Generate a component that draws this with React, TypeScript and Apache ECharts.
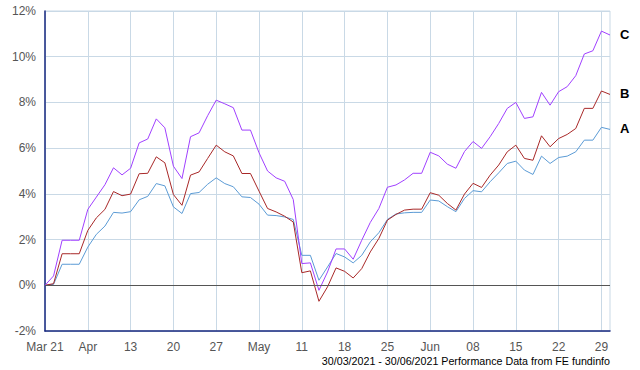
import React, { useEffect, useRef } from "react";
import * as echarts from "echarts";

// Weekday calendar from 30/03/2021 to 30/06/2021
const startDate = "2021-03-30";
const endDate = "2021-06-30";

const tickLabels = ["Mar 21", "Apr", "13", "20", "27", "May", "11", "18", "25", "Jun", "08", "15", "22", "29"];
const tickEvery = 5;

const seriesA = [
  0, 0.04, 0.92, 0.92, 0.92, 1.67, 2.23, 2.59, 3.19, 3.16,
  3.22, 3.74, 3.89, 4.45, 4.35, 3.43, 3.14, 4.01, 4.06, 4.42,
  4.7, 4.45, 4.31, 3.87, 3.84, 3.55, 3.07, 3.05, 2.99, 2.88,
  1.31, 1.31, 0.22, 0.8, 1.39, 1.24, 0.98, 1.31, 1.9, 2.3,
  2.88, 3.12, 3.17, 3.19, 3.19, 3.73, 3.69, 3.44, 3.22, 3.8,
  4.14, 4.09, 4.53, 4.92, 5.33, 5.43, 5.04, 4.85, 5.65, 5.33,
  5.59, 5.65, 5.84, 6.35, 6.35, 6.91, 6.82,
];
const seriesB = [
  0, 0.07, 1.38, 1.38, 1.38, 2.4, 2.95, 3.32, 4.1, 3.92,
  3.99, 4.88, 4.9, 5.62, 5.36, 3.97, 3.5, 4.82, 4.96, 5.55,
  6.13, 5.84, 5.66, 4.89, 4.89, 4.12, 3.36, 3.21, 3.02, 2.77,
  0.55, 0.63, -0.7, -0.07, 0.76, 0.61, 0.32, 0.73, 1.46, 2.05,
  2.85, 3.1, 3.29, 3.33, 3.33, 4.05, 3.94, 3.58, 3.29, 3.99,
  4.46, 4.28, 4.82, 5.26, 5.84, 6.13, 5.55, 5.47, 6.54, 6.06,
  6.42, 6.6, 6.86, 7.74, 7.74, 8.5, 8.35,
];
const seriesC = [
  0, 0.41, 1.97, 1.97, 1.97, 3.32, 3.86, 4.4, 5.14, 4.83,
  5.12, 6.23, 6.4, 7.28, 6.89, 5.21, 4.67, 6.5, 6.67, 7.42,
  8.1, 7.94, 7.77, 6.79, 6.79, 5.8, 5.0, 4.7, 4.55, 3.75,
  0.95, 0.98, -0.22, 0.58, 1.59, 1.59, 1.14, 1.97, 2.75, 3.36,
  4.29, 4.39, 4.61, 4.9, 4.9, 5.82, 5.66, 5.3, 5.12, 5.85,
  6.29, 5.99, 6.5, 7.08, 7.74, 8.0, 7.3, 7.37, 8.44, 7.88,
  8.47, 8.69, 9.17, 10.12, 10.26, 11.12, 10.95,
];

const seriesNames = ["A", "B", "C"];
const seriesColors = ["#5b9bd5", "#a82828", "#a040ff"];
const footerText = "30/03/2021 - 30/06/2021 Performance Data from FE fundinfo";

function weekdays(from: string, to: string): string[] {
  const out: string[] = [];
  const d = new Date(from + "T00:00:00Z");
  const e = new Date(to + "T00:00:00Z");
  while (d <= e) {
    const day = d.getUTCDay();
    if (day !== 0 && day !== 6) out.push(d.toISOString().slice(0, 10));
    d.setUTCDate(d.getUTCDate() + 1);
  }
  return out;
}

const FONT = "'Liberation Sans', Arial, sans-serif";

export default function App() {
  const ref = useRef<HTMLDivElement>(null);
  useEffect(() => {
    document.body.style.margin = "0";
    if (!ref.current) return;
    const chart = echarts.init(ref.current, undefined, { renderer: "svg" });
    const dates = weekdays(startDate, endDate);
    const isTick = (i: number) => i % tickEvery === 0;
    const mk = (name: string, data: number[], color: string, extra: any = {}) => ({
      name,
      type: "line",
      data,
      symbol: "none",
      lineStyle: { color, width: 1 },
      itemStyle: { color },
      endLabel: {
        show: true,
        formatter: "{a}",
        color: "#000",
        fontWeight: "bold",
        fontSize: 13,
        fontFamily: FONT,
        distance: 10,
        offset: [0, -1],
      },
      ...extra,
    });
    chart.setOption({
      animation: false,
      grid: {
        left: 45,
        right: 30,
        top: 11,
        bottom: 39,
        show: true,
        borderColor: "#c9d9e6",
        borderWidth: 1,
      },
      xAxis: {
        type: "category",
        data: dates,
        boundaryGap: false,
        axisLine: { show: true, onZero: false, lineStyle: { color: "#1a2a80", width: 1.5 } },
        axisTick: { show: false },
        axisLabel: {
          interval: (i: number) => isTick(i),
          formatter: (_v: string, i: number) => tickLabels[Math.round(i / tickEvery)] ?? "",
          color: "#555",
          fontSize: 12,
          fontFamily: FONT,
          margin: 10,
        },
        splitLine: {
          show: true,
          interval: (i: number) => isTick(i),
          lineStyle: { color: "#c9d9e6", width: 1 },
        },
      },
      yAxis: {
        type: "value",
        min: -2,
        max: 12,
        interval: 2,
        axisLine: { show: true, lineStyle: { color: "#1a2a80", width: 1.5 } },
        axisTick: { show: false },
        axisLabel: {
          formatter: "{value}%",
          color: "#555",
          fontSize: 12,
          fontFamily: FONT,
          margin: 9,
        },
        splitLine: { show: true, lineStyle: { color: "#c9d9e6", width: 1 } },
      },
      series: [
        mk(seriesNames[0], seriesA, seriesColors[0], {
          markLine: {
            silent: true,
            symbol: "none",
            label: { show: false },
            lineStyle: { color: "#555", width: 1, type: "solid" },
            data: [{ yAxis: 0 }],
          },
        }),
        mk(seriesNames[1], seriesB, seriesColors[1]),
        mk(seriesNames[2], seriesC, seriesColors[2]),
      ],
      graphic: [
        {
          type: "text",
          right: 30,
          top: 355,
          style: { text: footerText, fontSize: 10.7, fill: "#000", fontFamily: FONT },
        },
      ],
    });
    return () => chart.dispose();
  }, []);
  return <div ref={ref} style={{ width: 640, height: 370 }} />;
}
